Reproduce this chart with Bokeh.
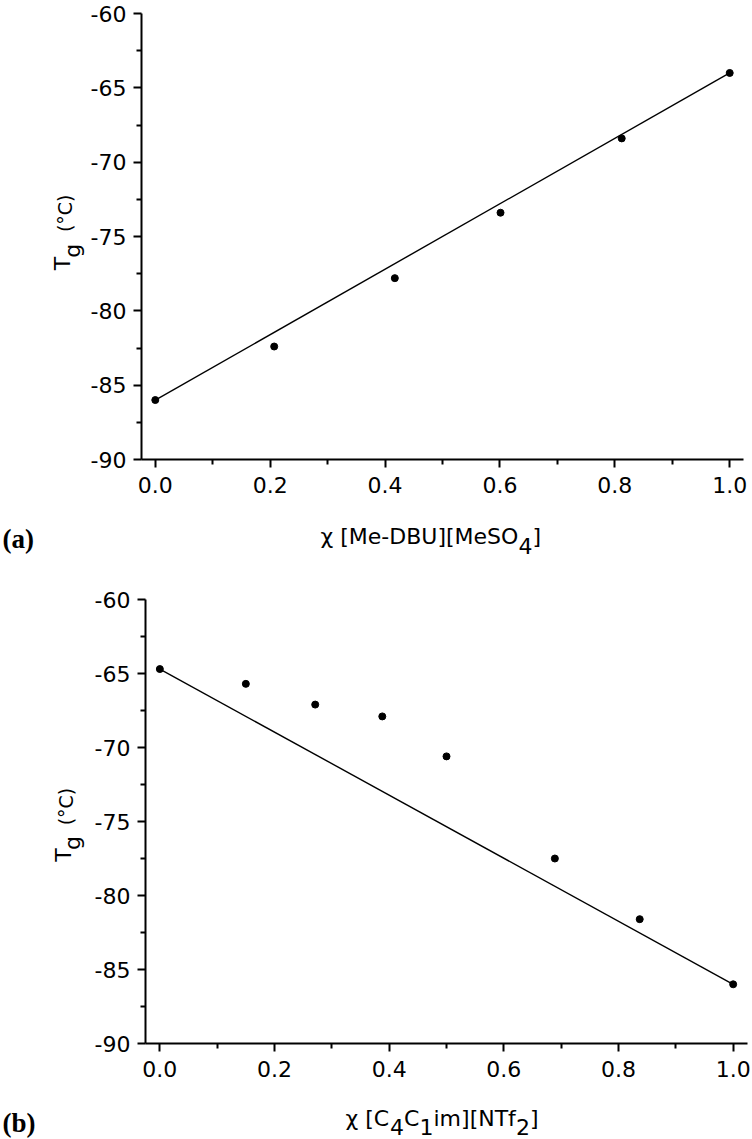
import math
from bokeh.plotting import figure
from bokeh.models import FixedTicker, PrintfTickFormatter
from bokeh.core.properties import value
from bokeh.layouts import column, row
from bokeh.embed import file_html
from bokeh.resources import INLINE

# ---------------- data ----------------
# panel (a): x = mole fraction of [Me-DBU][MeSO4]
a_x = [0.0, 0.207, 0.417, 0.601, 0.812, 1.0]
a_y = [-86.0, -82.4, -77.8, -73.4, -68.4, -64.0]
a_line_x = [0.0, 1.0]
a_line_y = [-86.0, -64.0]

# panel (b): x = mole fraction of [C4C1im][NTf2]
b_x = [0.0, 0.150, 0.271, 0.388, 0.500, 0.689, 0.837, 1.0]
b_y = [-64.7, -65.7, -67.1, -67.9, -70.6, -77.5, -81.6, -86.0]
b_line_x = [0.0, 1.0]
b_line_y = [-64.7, -86.0]

x_ticks = [0.0, 0.2, 0.4, 0.6, 0.8, 1.0]
x_minor = [0.1, 0.3, 0.5, 0.7, 0.9]
y_ticks = [-90, -85, -80, -75, -70, -65, -60]
y_minor = [-87.5, -82.5, -77.5, -72.5, -67.5, -62.5]

SANS = "DejaVu Sans"
SERIF = "Liberation Serif"
UP = math.pi / 2


def make_panel(xs, ys, lx, ly, W, H, L, R, T, B, xr, yr):
    p = figure(width=W, height=H, x_range=xr, y_range=yr,
               output_backend="svg", toolbar_location=None,
               min_border_left=L, min_border_right=R,
               min_border_top=T, min_border_bottom=B)
    p.outline_line_color = None
    p.xgrid.visible = False
    p.ygrid.visible = False
    p.background_fill_color = "white"
    p.border_fill_color = "white"

    p.line(lx, ly, line_color="black", line_width=1.4)
    p.scatter(xs, ys, size=7, fill_color="black", line_color="black")

    p.xaxis.ticker = FixedTicker(ticks=x_ticks, minor_ticks=x_minor)
    p.yaxis.ticker = FixedTicker(ticks=y_ticks, minor_ticks=y_minor)
    p.xaxis.formatter = PrintfTickFormatter(format="%.1f")
    p.yaxis.formatter = PrintfTickFormatter(format="%d")
    for ax in (p.xaxis, p.yaxis):
        ax.axis_line_width = 2
        ax.axis_line_color = "black"
        ax.major_tick_line_width = 2
        ax.minor_tick_line_width = 2
        ax.major_tick_line_color = "black"
        ax.minor_tick_line_color = "black"
        ax.major_tick_out = 8
        ax.major_tick_in = 0
        ax.minor_tick_out = 5
        ax.minor_tick_in = 0
        ax.major_label_text_font = SANS
        ax.major_label_text_color = "black"
        ax.major_label_text_font_size = "22px"
        ax.axis_label = None
    p.xaxis.major_label_standoff = 9
    p.yaxis.major_label_standoff = 7
    return p


def canvas(w, h):
    c = figure(width=w, height=h, x_range=(0, w), y_range=(0, h),
               output_backend="svg", toolbar_location=None, min_border=0,
               x_axis_type=None, y_axis_type=None)
    c.outline_line_color = None
    c.grid.visible = False
    c.background_fill_color = "white"
    c.border_fill_color = "white"
    return c


def put(c, x, ydown, text, size, font=SANS, angle=0.0, style="normal"):
    h = c.height
    c.text(x=[x], y=[h - ydown], text=[text], text_font=value(font),
           text_font_size=f"{size}px", text_font_style=style,
           angle=angle, angle_units="rad",
           text_align="left", text_baseline="alphabetic", text_color="black")


LW = 87      # width of the y-label strip
MW = 752 - LW

# ---------- panel (a) ----------
pa = make_panel(a_x, a_y, a_line_x, a_line_y, MW, 504, 139 - LW, 9, 13, 45,
                (-0.024, 1.024), (-90, -60))
la = canvas(LW, 504)
put(la, 62, 290, "T", 22, angle=UP)
put(la, 72, 276, "g", 22, angle=UP)
put(la, 64, 247, "(°C)", 19, angle=UP)

ba = canvas(752, 60)
put(ba, 320, 32, "χ [Me-DBU][MeSO", 22)
put(ba, 518, 41, "4", 22)
put(ba, 532, 32, "]", 22)
put(ba, 2, 34, "(a)", 27, font=SERIF, style="bold")

# ---------- panel (b) ----------
pb = make_panel(b_x, b_y, b_line_x, b_line_y, MW, 523, 145 - LW, 5, 35, 44,
                (-0.025, 1.025), (-90, -60))
lb = canvas(LW, 523)
put(lb, 63, 309, "T", 22, angle=UP)
put(lb, 72, 295, "g", 22, angle=UP)
put(lb, 65, 266, "(°C)", 19, angle=UP)

bb = canvas(752, 52)
bx0 = 345
put(bb, bx0, 31, "χ [C", 22)
put(bb, bx0 + 44.5, 39, "4", 22)
put(bb, bx0 + 58.5, 31, "C", 22)
put(bb, bx0 + 74.0, 39, "1", 22)
put(bb, bx0 + 88.0, 31, "im][NTf", 22)
put(bb, bx0 + 170.5, 39, "2", 22)
put(bb, bx0 + 184.5, 31, "]", 22)
put(bb, 2, 35, "(b)", 27, font=SERIF, style="bold")

layout = column(row(la, pa), ba, row(lb, pb), bb)
open("out.html", "w").write(file_html(layout, INLINE))
